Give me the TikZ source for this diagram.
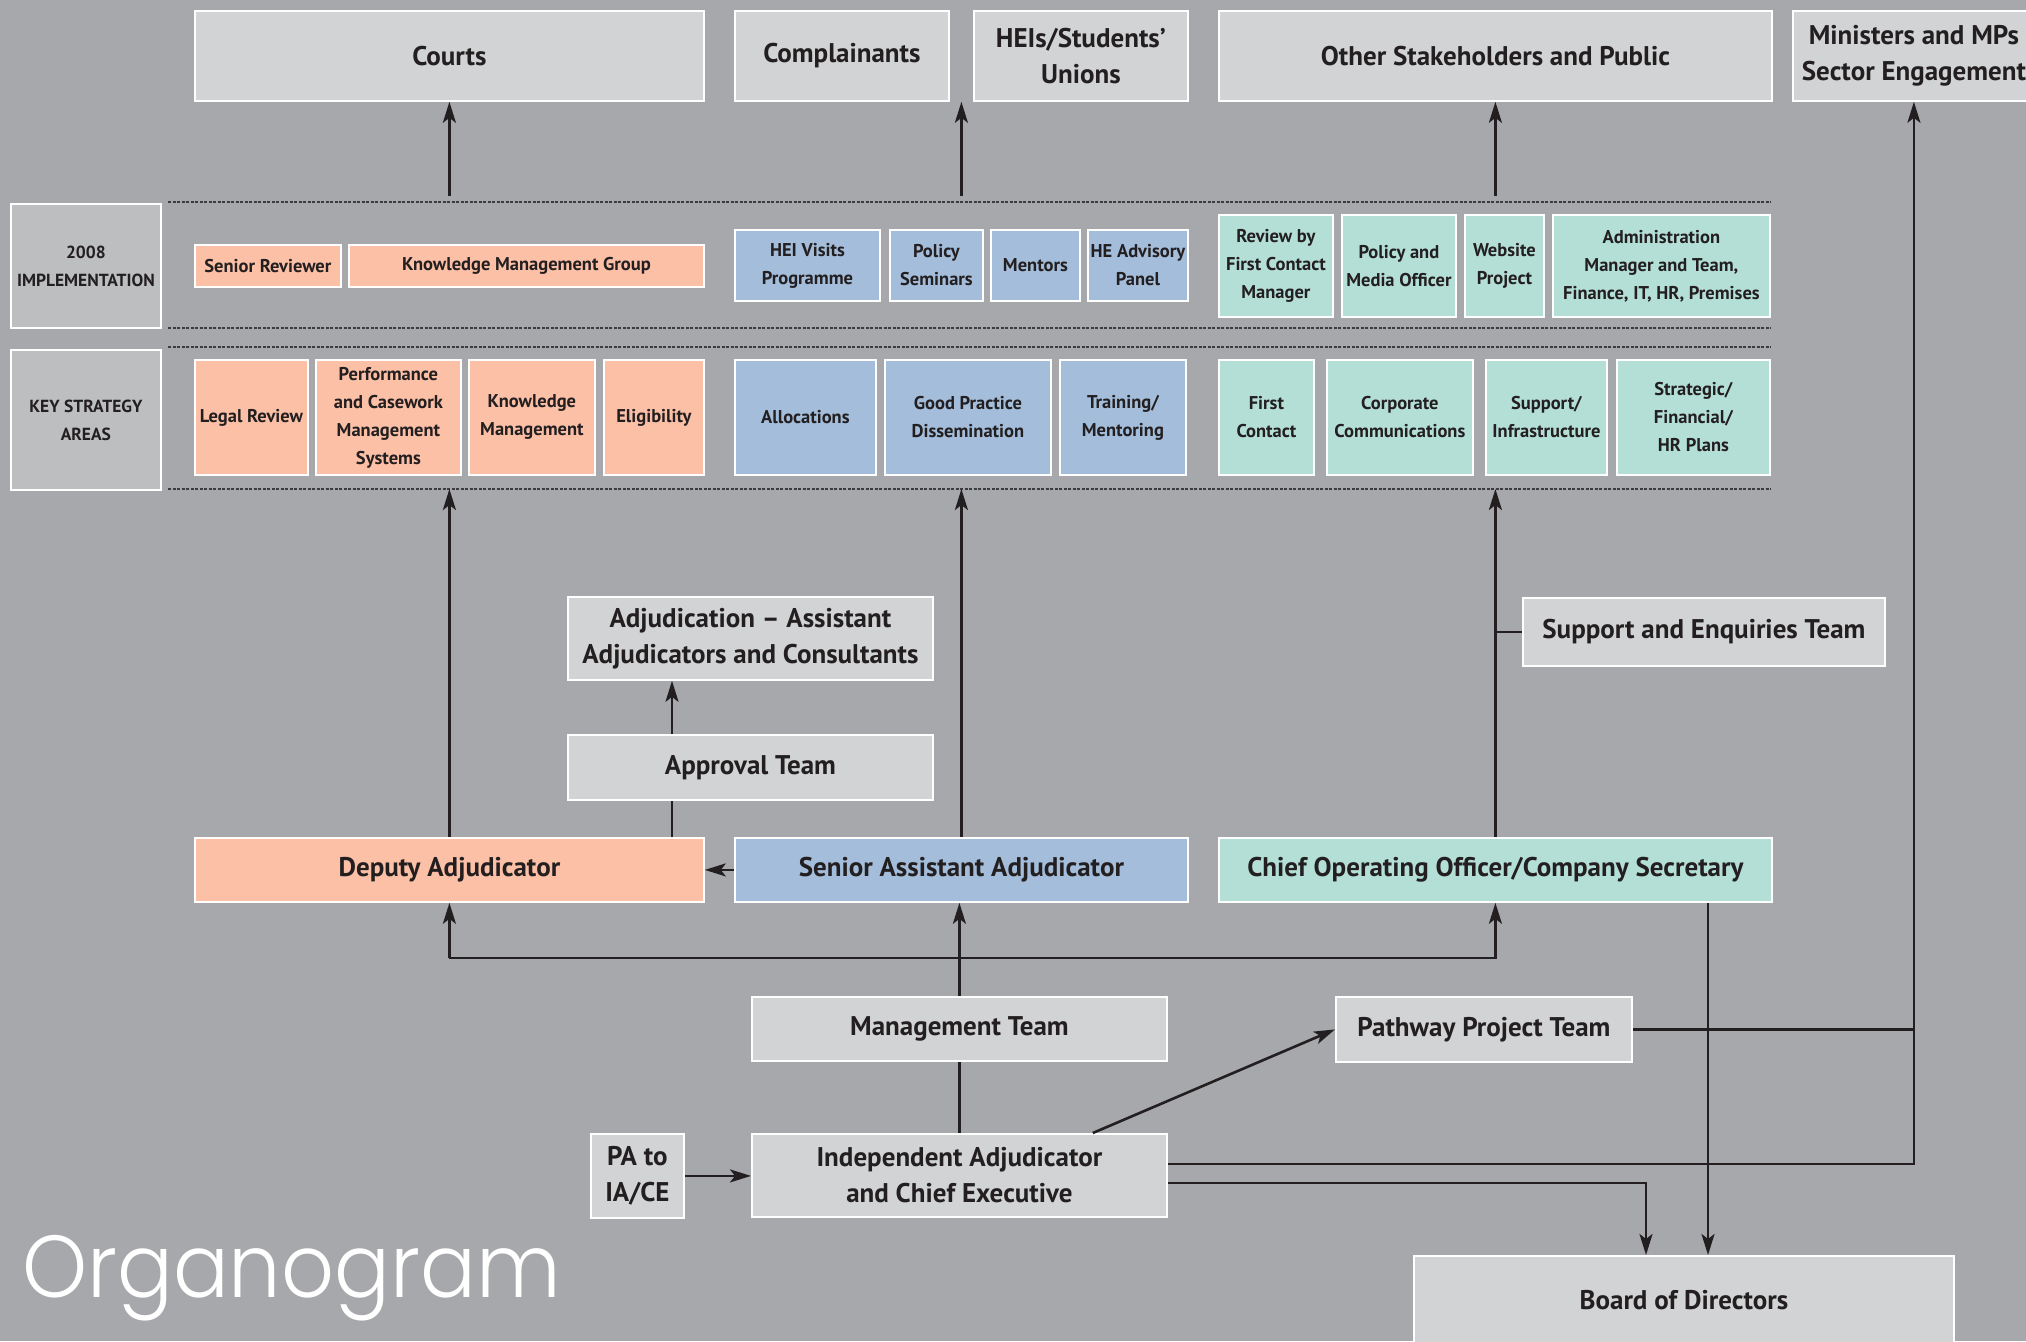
\documentclass[tikz,border=0pt]{standalone}
\usepackage{fontspec}
\setmainfont{PT Sans}
\newfontfamily\titlefont{Poppins Light}[FakeStretch=0.94]
\usetikzlibrary{arrows.meta}
\definecolor{bggray}{HTML}{A7A8AB}
\definecolor{boxgray}{HTML}{D1D3D4}
\definecolor{lblgray}{HTML}{BCBEC0}
\definecolor{salmon}{HTML}{FCC0A7}
\definecolor{bluebox}{HTML}{A3BDDA}
\definecolor{mint}{HTML}{B4DFD7}
\definecolor{ink}{HTML}{231F20}
\definecolor{dotgray}{HTML}{3C3B3D}
\newcommand\bigtxt{\bfseries\fontsize{27}{36}\selectfont}
\newcommand\smalltxt{\bfseries\fontsize{18.5}{28}\selectfont}
\newcommand\lbltxt{\bfseries\fontsize{17.5}{28}\selectfont}
\tikzset{
  box/.style={draw=white, line width=1.8pt, anchor=north west, inner sep=1pt, align=center, text=ink},
  wh/.style 2 args={minimum width=#1pt, minimum height=#2pt},
  grey/.style={box, fill=boxgray, font=\bigtxt},
  lbl/.style={box, fill=lblgray, font=\lbltxt},
  adjbox/.style={box, fill=salmon, font=\smalltxt},
  senbox/.style={box, fill=bluebox, font=\smalltxt},
  opsbox/.style={box, fill=mint, font=\smalltxt},
  arr/.style={draw=ink, line width=2.6pt, -{Stealth[length=21pt,width=13pt,inset=5pt]}},
  link/.style={draw=ink, line width=2.6pt},
  dots/.style={draw=dotgray, line width=1.5pt, dash pattern=on 3pt off 1.5pt}
}
\begin{document}
\begin{tikzpicture}[x=1pt,y=1pt,yscale=-1]
\path[use as bounding box, fill=bggray] (0,0) rectangle (2026,1341);
\clip (0,0) rectangle (2026,1341);
% Top row
\node[grey, wh={509}{90}] (courts) at (194,10) {Courts};
\node[grey, wh={214}{90}] (compl) at (734,10) {Complainants};
\node[grey, wh={214}{90}] (heis) at (973,10) {HEIs/Students’\\Unions};
\node[grey, wh={553}{90}] (others) at (1218,10) {Other Stakeholders and Public};
\node[grey, wh={242}{90}] (minis) at (1792,10) {Ministers and MPs\\Sector Engagement};
% Dotted rules
\foreach \y in {202,328,347,489} \draw[dots] (168,\y) -- (1771,\y);
% Row labels
\node[lbl, wh={150}{124}] (impl) at (10,203) {2008\\IMPLEMENTATION};
\node[lbl, wh={150}{140}] (ksa) at (10,349) {KEY STRATEGY\\AREAS};
% 2008 implementation
\node[adjbox, wh={146}{42}] (senrev) at (194,244) {Senior Reviewer};
\node[adjbox, wh={355}{42}] (kmg) at (348,244) {Knowledge Management Group};
\node[senbox, wh={145}{71}] (heiv) at (734,229) {HEI Visits\\Programme};
\node[senbox, wh={93}{71}] (polsem) at (889,229) {Policy\\Seminars};
\node[senbox, wh={89}{71}] (mentors) at (990,229) {Mentors};
\node[senbox, wh={100}{71}] (headv) at (1087,229) {HE Advisory\\Panel};
\node[opsbox, wh={114}{102}] (revfc) at (1218,214) {Review by\\First Contact\\Manager};
\node[opsbox, wh={114}{102}] (polmed) at (1341,214) {Policy and\\Media Officer};
\node[opsbox, wh={79}{102}] (website) at (1464,214) {Website\\Project};
\node[opsbox, wh={217}{102}] (admin) at (1552,214) {Administration\\Manager and Team,\\Finance, IT, HR, Premises};
% Key strategy areas
\node[adjbox, wh={113}{115}] (legal) at (194,359) {Legal Review};
\node[adjbox, wh={145}{115}] (perf) at (315,359) {Performance\\and Casework\\Management\\Systems};
\node[adjbox, wh={126}{115}] (know) at (468,359) {Knowledge\\Management};
\node[adjbox, wh={100}{115}] (elig) at (603,359) {Eligibility};
\node[senbox, wh={141}{115}] (alloc) at (734,359) {Allocations};
\node[senbox, wh={166}{115}] (goodp) at (884,359) {Good Practice\\Dissemination};
\node[senbox, wh={126}{115}] (train) at (1059,359) {Training/\\Mentoring};
\node[opsbox, wh={95}{115}] (firstc) at (1218,359) {First\\Contact};
\node[opsbox, wh={146}{115}] (corp) at (1326,359) {Corporate\\Communications};
\node[opsbox, wh={121}{115}] (supp) at (1485,359) {Support/\\Infrastructure};
\node[opsbox, wh={153}{115}] (strat) at (1616,359) {Strategic/\\Financial/\\HR Plans};
% Staff
\node[grey, wh={365}{83}] (adju) at (567,596) {Adjudication – Assistant\\Adjudicators and Consultants};
\node[grey, wh={365}{65}] (appr) at (567,734) {Approval Team};
\node[grey, wh={362}{68}] (sup) at (1522,597) {Support and Enquiries Team};
\node[adjbox, font=\bigtxt, wh={509}{64}] (dep) at (194,837) {Deputy Adjudicator};
\node[senbox, font=\bigtxt, wh={453}{64}] (sen) at (734,837) {Senior Assistant Adjudicator};
\node[opsbox, font=\bigtxt, wh={553}{64}] (coo) at (1218,837) {Chief Operating Officer/Company Secretary};
\node[grey, wh={415}{64}] (mgmt) at (751,996) {Management Team};
\node[grey, wh={296}{65}] (pathway) at (1335,996) {Pathway Project Team};
\node[grey, wh={93}{84}] (pa) at (590,1133) {PA to\\IA/CE};
\node[grey, wh={415}{83}] (ia) at (751,1133) {Independent Adjudicator\\and Chief Executive};
\node[grey, wh={540}{88}] (board) at (1413,1255) {Board of Directors};
% Title
\node[anchor=base west, inner sep=0pt, text=white, font=\titlefont\fontsize{88}{88}\selectfont] (title) at (22,1297) {Organogram};
% Helper points
\coordinate (topline) at (0,196);
\coordinate (ksaline) at (0,489);
\coordinate (apx) at (672,0);
\coordinate (bus) at (0,958);
\coordinate (iaA) at (0,1164);
\coordinate (iaB) at (1646,1183);
\coordinate (cooB) at (1708,0);
% Arrows to the top row
\draw[arr] (courts.south |- topline) -- (courts.south);
\draw[arr] (sen.north |- topline) -- (sen.north |- compl.south);
\draw[arr] (others.south |- topline) -- (others.south);
% Arrows to key strategy areas
\foreach \n in {dep,sen,coo} \draw[arr] (\n.north) -- (\n.north |- ksaline);
\draw[link] (apx |- dep.north) -- (apx |- appr.south);
\draw[arr] (apx |- appr.north) -- (apx |- adju.south);
\draw[arr] (sen.west) -- (dep.east);
\draw[link] (coo.north |- sup.west) -- (sup.west);
% Management lines
\draw[arr] (dep.south |- bus) -- (coo.south |- bus) -- (coo.south);
\draw[arr] (dep.south |- bus) -- (dep.south);
\draw[arr] (mgmt.north) -- (mgmt.north |- sen.south);
\draw[link] (ia.north) -- (mgmt.south);
\draw[arr] (pa.east) -- (ia.west |- pa.east);
\draw[arr] ([xshift=-75pt]ia.north east) -- (pathway.west);
\draw[link] (pathway.east) -- (minis.south |- pathway.east);
\draw[arr] (ia.east |- iaA) -- (minis.south |- iaA) -- (minis.south);
\draw[arr] (ia.east |- iaB) -- (iaB) -- (iaB |- board.north);
\draw[arr] (cooB |- coo.south) -- (cooB |- board.north);
\end{tikzpicture}
\end{document}
